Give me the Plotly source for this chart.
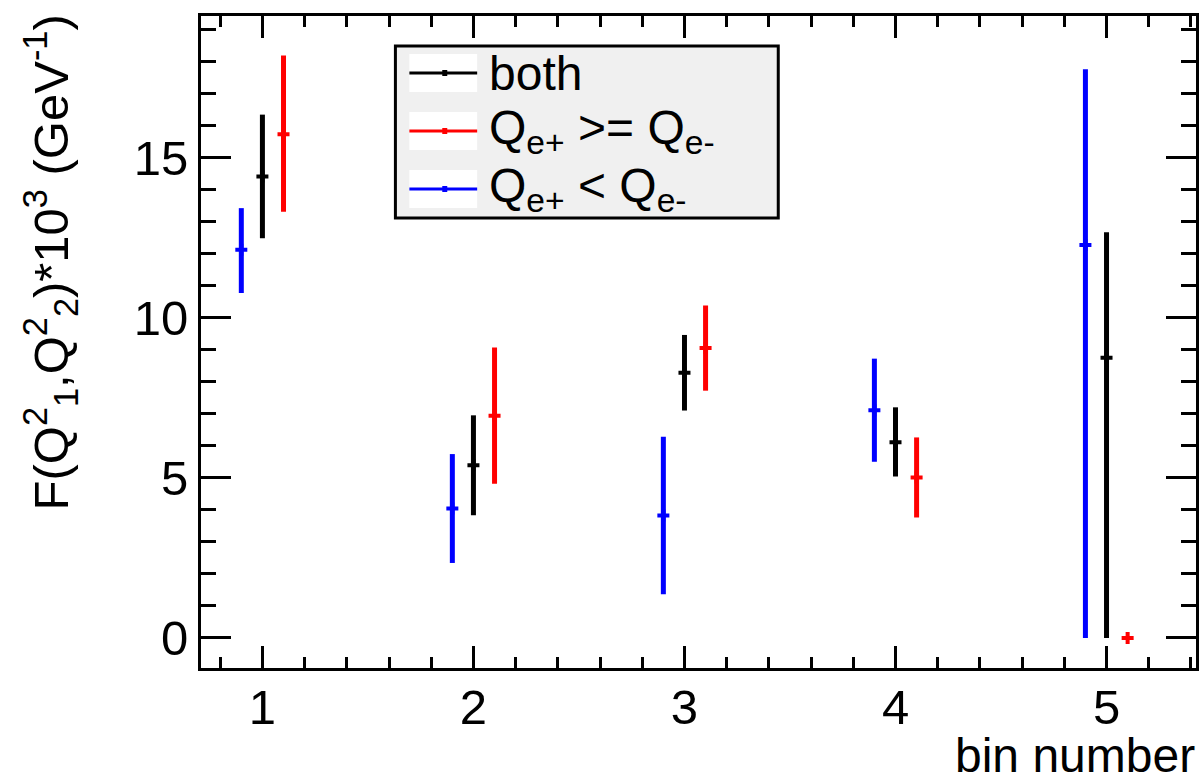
import plotly.graph_objects as go

# ---------------- data ----------------
bins = [1, 2, 3, 4, 5]
bin_labels = ["1", "2", "3", "4", "5"]

both_val = [14.41, 5.39, 8.28, 6.11, 8.75]
both_err_hi = [1.93, 1.56, 1.18, 1.09, 3.92]
both_err_lo = [1.93, 1.56, 1.18, 1.07, 8.75]

ge_val = [15.73, 6.94, 9.05, 5.01, 0.0]
ge_err_hi = [2.46, 2.13, 1.33, 1.25, 0.0]
ge_err_lo = [2.42, 2.13, 1.33, 1.25, 0.0]

lt_val = [12.12, 4.04, 3.82, 7.11, 12.27]
lt_err_hi = [1.30, 1.70, 2.46, 1.61, 5.49]
lt_err_lo = [1.35, 1.70, 2.46, 1.61, 12.27]

y_ticks = [0, 5, 10, 15]
y_tick_labels = ["0", "5", "10", "15"]

# ---------------- layout geometry ----------------
W, H = 1202, 782
L, R, T, B = 201, 3, 16, 114
PW, PH = W - L - R, H - T - B
FONT = "Liberation Sans, Arial, Helvetica, sans-serif"


def px_x(p):
    return (p - L) / PW


def px_y(p):
    return (H - B - p) / PH


SHIFT = 0.1
series = [
    ("both", "black", [b for b in bins], both_val, both_err_hi, both_err_lo),
    ("ge", "#ff0000", [b + SHIFT for b in bins], ge_val, ge_err_hi, ge_err_lo),
    ("lt", "#0000ff", [b - SHIFT for b in bins], lt_val, lt_err_hi, lt_err_lo),
]

fig = go.Figure()
for name, col, xs, ys, ehi, elo in series:
    fig.add_trace(go.Scatter(
        x=xs, y=ys, mode="markers", name=name, showlegend=False,
        marker=dict(symbol="cross", size=10, color=col, line=dict(width=0)),
        error_y=dict(type="data", symmetric=False, array=ehi, arrayminus=elo,
                     color=col, thickness=5, width=0),
        cliponaxis=True,
    ))

axis_common = dict(
    showline=True, linewidth=3, linecolor="black", mirror="allticks",
    ticks="inside", tickwidth=3, tickcolor="black", showgrid=False,
    zeroline=False, tickfont=dict(family=FONT, size=49, color="black"),
)

fig.update_xaxes(
    range=[0.709, 5.424], tickmode="array", tickvals=bins, ticktext=bin_labels,
    ticklen=22, ticklabelstandoff=-6,
    minor=dict(dtick=0.2, tick0=0, ticks="inside", ticklen=11, tickwidth=3,
               tickcolor="black", showgrid=False),
    **axis_common,
)
fig.update_yaxes(
    range=[-0.94, 19.42], tickmode="array", tickvals=y_ticks, ticktext=y_tick_labels,
    ticklen=30,
    minor=dict(dtick=1, tick0=0, ticks="inside", ticklen=15, tickwidth=3,
               tickcolor="black", showgrid=False),
    **axis_common,
)

annotations = []
shapes = []

# axis titles
annotations.append(dict(
    text="bin number", xref="paper", yref="paper", x=px_x(1199), y=px_y(783),
    xanchor="right", yanchor="bottom", showarrow=False, borderpad=0,
    font=dict(family=FONT, size=48, color="black"),
))
annotations.append(dict(
    text="F(Q<sup>2</sup><sub>1</sub>,Q<sup>2</sup><sub>2</sub>)*10<sup>3</sup> (GeV<sup>-1</sup>)",
    xref="paper", yref="paper", x=px_x(50), y=px_y(12),
    xanchor="center", yanchor="top", textangle=-90, showarrow=False,
    font=dict(family=FONT, size=49, color="black"),
))

# legend box (drawn by hand to mimic the ROOT TLegend)
shapes.append(dict(type="rect", xref="paper", yref="paper",
                   x0=px_x(396), x1=px_x(780), y0=px_y(218), y1=px_y(46),
                   fillcolor="#f0f0f0", line=dict(color="black", width=3), layer="above"))
legend_rows = [
    ("black", "both", 73),
    ("#ff0000", "Q<sub>e+</sub> &gt;= Q<sub>e-</sub>", 131),
    ("#0000ff", "Q<sub>e+</sub> &lt; Q<sub>e-</sub>", 189),
]
for col, label, yc in legend_rows:
    shapes.append(dict(type="rect", xref="paper", yref="paper",
                       x0=px_x(410), x1=px_x(478), y0=px_y(yc + 19), y1=px_y(yc - 19),
                       fillcolor="white", line=dict(width=0), layer="above"))
    shapes.append(dict(type="line", xref="paper", yref="paper",
                       x0=px_x(410), x1=px_x(478), y0=px_y(yc), y1=px_y(yc),
                       line=dict(color=col, width=3), layer="above"))
    shapes.append(dict(type="rect", xref="paper", yref="paper",
                       x0=px_x(443), x1=px_x(448), y0=px_y(yc + 3), y1=px_y(yc - 3),
                       fillcolor=col, line=dict(width=0), layer="above"))
    annotations.append(dict(
        text=label, xref="paper", yref="paper", x=px_x(488), y=px_y(yc),
        xanchor="left", yanchor="middle", showarrow=False,
        font=dict(family=FONT, size=48, color="black"),
    ))

fig.update_layout(
    width=W, height=H, margin=dict(l=L, r=R, t=T, b=B, pad=0),
    paper_bgcolor="white", plot_bgcolor="white",
    showlegend=False, annotations=annotations, shapes=shapes,
    font=dict(family=FONT, color="black"),
)

fig.write_html("out.html")
